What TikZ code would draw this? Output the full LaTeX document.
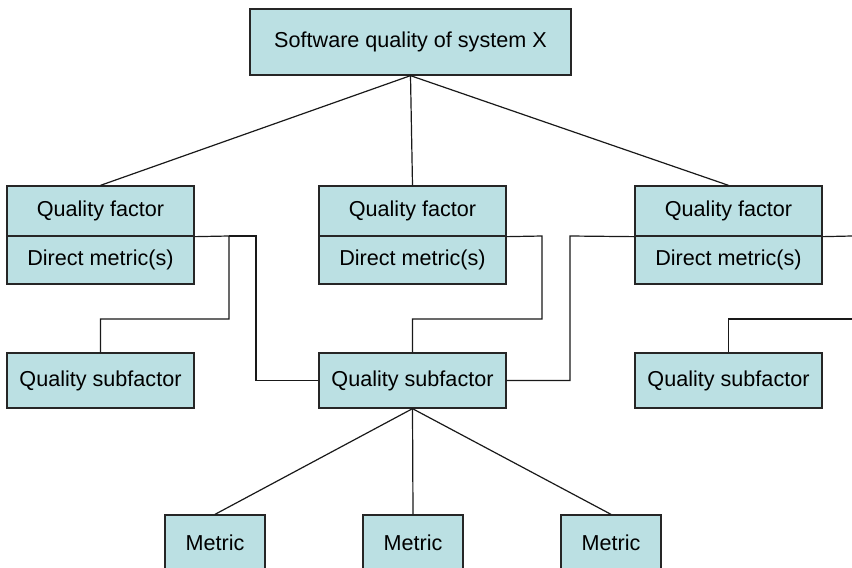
\documentclass[tikz,border=0pt]{standalone}
\usepackage{fontspec}
\setmainfont{Liberation Sans}
\definecolor{boxfill}{RGB}{187,224,227}
\tikzset{
  box/.style={draw=black!85, line width=1.3pt, fill=boxfill, inner sep=0pt,
    font=\fontsize{21.6}{26}\selectfont, text=black},
  link/.style={line width=1.2pt, draw=black!90}
}
\begin{document}
\begin{tikzpicture}[x=1pt,y=-1pt]
\useasboundingbox (0,0) rectangle (852,568);
\clip (0,0) rectangle (852,568);

% root
\node[box, minimum width=321pt, minimum height=66pt] (top) at (410.5,42) {Software quality of system X};

% quality factors (two stacked cells each)
\foreach \n/\x in {L/100.5, M/412.5, R/728.5}{
  \node[box, minimum width=187pt, minimum height=50pt] (qf\n) at (\x,211) {Quality factor};
  \node[box, minimum width=187pt, minimum height=48pt] (dm\n) at (\x,260) {Direct metric(s)};
}

% quality subfactors
\foreach \n/\x in {L/100.5, M/412.5, R/728.5}{
  \node[box, minimum width=187pt, minimum height=55pt] (sf\n) at (\x,380.5) {Quality subfactor};
}

% metrics
\foreach \n/\x in {A/215, B/413, C/611}{
  \node[box, minimum width=100pt, minimum height=55pt] (m\n) at (\x,542.5) {Metric};
}

% root to factors
\draw[link] (top.south) -- (qfL.north);
\draw[link] (top.south) -- (qfM.north);
\draw[link] (top.south) -- (qfR.north);

% factors to subfactors
\coordinate (jL) at (229,236);
\draw[link] (qfL.south east) -- (jL) -- (229,319) -| (sfL.north);
\draw[link] (jL) -- (256,236) |- (sfM.west);
\draw[link] (qfM.south east) -- (542,236) -- (542,319) -| (sfM.north);
\draw[link] (qfR.south west) -- (570,236) |- (sfM.east);
\coordinate (edgeA) at (852,236);
\coordinate (edgeB) at (852,319);
\draw[link] (qfR.south east) -- (edgeA);
\draw[link] (edgeB) -| (sfR.north);

% subfactor to metrics
\draw[link] (sfM.south) -- (mA.north);
\draw[link] (sfM.south) -- (mB.north);
\draw[link] (sfM.south) -- (mC.north);
\end{tikzpicture}
\end{document}
